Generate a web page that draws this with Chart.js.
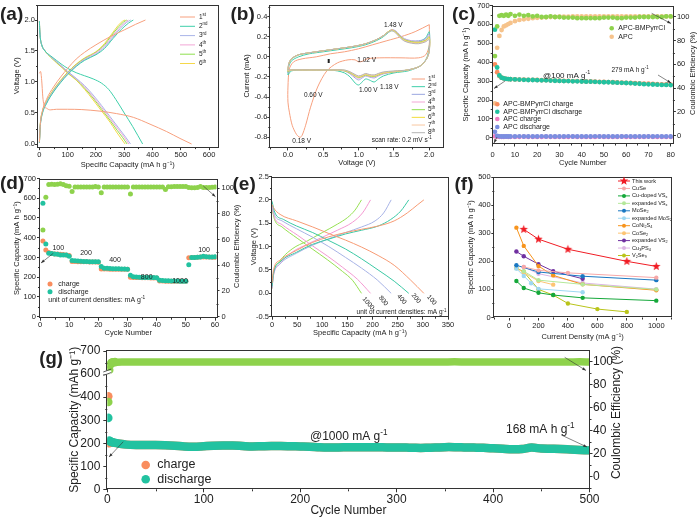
<!DOCTYPE html>
<html>
<head>
<meta charset="utf-8">
<script src="https://cdn.jsdelivr.net/npm/chart.js@4.4.1/dist/chart.umd.min.js"></script>
<style>
  html, body { margin: 0; padding: 0; background: #fff; }
  body { width: 698px; height: 518px; position: relative; overflow: hidden; }
  canvas { position: absolute; }
</style>
</head>
<body>
<canvas id="ca"></canvas>
<canvas id="cb"></canvas>
<canvas id="cc"></canvas>
<canvas id="cd"></canvas>
<canvas id="ce"></canvas>
<canvas id="cf"></canvas>
<canvas id="cg"></canvas>
<script>
// (a) charge / discharge profiles, [capacity, voltage]
const a1ch = [[0,0.03],[3,0.3],[10,0.52],[25,0.72],[50,0.92],[75,1.08],[100,1.22],[130,1.37],[160,1.48],[200,1.6],[250,1.73],[300,1.84],[340,1.93],[375,2.0]]
const a1dis = [[0,1.14],[4,1.17],[8,1.03],[12,0.76],[16,0.63],[26,0.575],[38,0.55],[60,0.56],[100,0.56],[150,0.555],[214,0.53],[273,0.49],[332,0.43],[391,0.32],[450,0.2],[497,0.09],[538,0.0]]
const a2ch = [[0,0.02],[3,0.28],[10,0.48],[25,0.65],[50,0.84],[75,0.99],[100,1.12],[130,1.25],[160,1.35],[200,1.44],[230,1.54],[260,1.7],[290,1.85],[315,1.95],[332,2.0]]
const a3ch = [[0,0.02],[3,0.29],[10,0.49],[25,0.66],[50,0.85],[75,1.0],[100,1.13],[130,1.26],[160,1.36],[200,1.45],[230,1.56],[258,1.71],[285,1.86],[308,1.96],[323,2.0]]
const a4ch = [[0,0.02],[3,0.3],[10,0.5],[25,0.67],[50,0.86],[75,1.01],[100,1.14],[130,1.27],[160,1.37],[200,1.47],[230,1.58],[255,1.72],[280,1.86],[300,1.95],[314,2.0]]
const a5ch = [[0,0.02],[3,0.31],[10,0.51],[25,0.68],[50,0.87],[75,1.02],[100,1.15],[130,1.28],[160,1.38],[200,1.48],[230,1.6],[255,1.75],[280,1.89],[298,1.97],[309,2.0]]
const a6ch = [[0,0.02],[3,0.32],[10,0.52],[25,0.69],[50,0.88],[75,1.03],[100,1.16],[130,1.29],[160,1.39],[200,1.49],[230,1.62],[255,1.77],[278,1.91],[294,1.98],[303,2.0]]
const a2dis = [[0,1.98],[1,1.85],[3,1.72],[8,1.6],[20,1.5],[40,1.42],[60,1.35],[80,1.28],[100,1.22],[130,1.15],[160,1.1],[190,1.05],[220,0.98],[245,0.88],[270,0.72],[300,0.5],[330,0.28],[365,0.0]]
const a3dis = [[0,1.98],[1,1.85],[3,1.72],[8,1.6],[20,1.5],[40,1.41],[60,1.33],[80,1.25],[100,1.17],[130,1.06],[160,0.94],[190,0.79],[220,0.62],[250,0.44],[280,0.26],[305,0.11],[322,0.0]]
const a4dis = [[0,1.98],[1,1.85],[3,1.72],[8,1.6],[20,1.5],[40,1.41],[60,1.33],[80,1.25],[100,1.16],[130,1.05],[160,0.92],[190,0.76],[220,0.59],[250,0.41],[280,0.23],[300,0.11],[316,0.0]]
const a5dis = [[0,1.98],[1,1.85],[3,1.72],[8,1.6],[20,1.5],[40,1.4],[60,1.32],[80,1.24],[100,1.15],[130,1.04],[160,0.9],[190,0.74],[220,0.56],[250,0.38],[275,0.22],[295,0.1],[310,0.0]]
const a6dis = [[0,1.98],[1,1.85],[3,1.72],[8,1.6],[20,1.5],[40,1.4],[60,1.31],[80,1.23],[100,1.14],[130,1.03],[160,0.88],[190,0.71],[220,0.53],[250,0.35],[270,0.21],[290,0.08],[303,0.0]]
const aXTicks = [0, 100, 200, 300, 400, 500, 600]
const aYTicks = [0, 0.5, 1.0, 1.5, 2.0]

// (b) CV loops: voltage path and current for each cycle
const bV1 = [2.0,2.0,1.95,1.85,1.6,1.3,1.12,1.05,1.0,0.95,0.85,0.7,0.55,0.42,0.32,0.25,0.2,0.17,0.12,0.06,0.02,0.0,0.0,0.02,0.08,0.2,0.4,0.6,0.8,1.0,1.2,1.4,1.6,1.8,2.0]
const bI1 = [0.32,0.12,0.02,-0.01,-0.01,-0.01,-0.02,-0.045,-0.05,-0.03,-0.03,-0.06,-0.14,-0.3,-0.5,-0.68,-0.78,-0.8,-0.77,-0.68,-0.55,-0.45,-0.3,-0.12,-0.05,-0.02,0.0,0.03,0.05,0.08,0.12,0.16,0.2,0.25,0.32]
const bV = [0.0,0.01,0.05,0.15,0.3,0.5,0.7,0.9,1.1,1.25,1.35,1.42,1.47,1.52,1.58,1.65,1.75,1.85,1.95,2.0,
  2.0,1.97,1.92,1.85,1.7,1.5,1.35,1.28,1.22,1.15,1.1,1.05,1.0,0.95,0.88,0.8,0.7,0.58,0.4,0.2,0.05,0.0]
const bI2 = [-0.18,-0.1,-0.04,0.0,0.03,0.05,0.07,0.09,0.12,0.16,0.2,0.24,0.26,0.25,0.21,0.17,0.15,0.15,0.19,0.25,
  0.1,0.0,-0.06,-0.1,-0.14,-0.16,-0.19,-0.22,-0.25,-0.23,-0.22,-0.25,-0.28,-0.26,-0.2,-0.16,-0.14,-0.13,-0.13,-0.13,-0.14,-0.18]
const bI3 = [-0.16,-0.08,-0.02,0.02,0.04,0.06,0.08,0.1,0.13,0.17,0.21,0.25,0.27,0.26,0.22,0.18,0.16,0.16,0.18,0.23,
  0.08,-0.01,-0.06,-0.1,-0.13,-0.15,-0.17,-0.19,-0.21,-0.2,-0.19,-0.21,-0.23,-0.21,-0.17,-0.14,-0.13,-0.13,-0.13,-0.13,-0.13,-0.16]
const bI4 = [-0.15,-0.08,-0.02,0.02,0.04,0.06,0.08,0.1,0.13,0.17,0.21,0.25,0.27,0.255,0.215,0.175,0.155,0.15,0.17,0.21,
  0.07,-0.01,-0.06,-0.1,-0.13,-0.15,-0.165,-0.185,-0.2,-0.195,-0.185,-0.2,-0.215,-0.2,-0.165,-0.14,-0.13,-0.13,-0.13,-0.13,-0.13,-0.15]
const bI5 = [-0.15,-0.08,-0.02,0.02,0.04,0.06,0.08,0.1,0.13,0.17,0.21,0.25,0.265,0.25,0.21,0.17,0.15,0.145,0.165,0.2,
  0.06,-0.01,-0.06,-0.1,-0.13,-0.15,-0.16,-0.18,-0.195,-0.19,-0.18,-0.195,-0.205,-0.19,-0.16,-0.14,-0.13,-0.13,-0.13,-0.13,-0.13,-0.15]
const bI6 = [-0.14,-0.07,-0.02,0.02,0.04,0.06,0.08,0.1,0.13,0.17,0.21,0.25,0.265,0.25,0.205,0.165,0.145,0.14,0.16,0.19,
  0.06,-0.01,-0.06,-0.1,-0.13,-0.145,-0.16,-0.175,-0.19,-0.185,-0.175,-0.19,-0.2,-0.185,-0.155,-0.135,-0.13,-0.13,-0.13,-0.13,-0.13,-0.14]
const bI7 = [-0.14,-0.07,-0.02,0.02,0.04,0.06,0.08,0.1,0.13,0.17,0.21,0.245,0.26,0.245,0.2,0.16,0.14,0.135,0.155,0.18,
  0.05,-0.01,-0.06,-0.1,-0.13,-0.145,-0.155,-0.17,-0.185,-0.18,-0.17,-0.185,-0.195,-0.18,-0.15,-0.135,-0.13,-0.13,-0.13,-0.13,-0.13,-0.14]
const bI8 = [-0.13,-0.07,-0.02,0.02,0.04,0.06,0.08,0.1,0.13,0.17,0.21,0.245,0.26,0.24,0.195,0.155,0.135,0.13,0.15,0.17,
  0.05,-0.01,-0.06,-0.1,-0.13,-0.14,-0.15,-0.165,-0.18,-0.175,-0.165,-0.18,-0.19,-0.175,-0.15,-0.13,-0.13,-0.13,-0.13,-0.13,-0.13,-0.13]
const bXTicks = [0, 0.5, 1.0, 1.5, 2.0]
const bYTicks = [-0.8, -0.6, -0.4, -0.2, 0, 0.2, 0.4]

// (c) cycling at 100 mA/g
const cCyc = [1,2,3,4,5,6,7,8,10,12,14,16,18,20,22,24,26,28,30,32,34,36,38,40,42,44,46,48,50,52,54,56,58,60,62,64,66,68,70,72,74,76,78,80]
const cChg = [388,347,327,318,314,312,311,310, 309,308,308,307,307,306,305,305,304,303, 302,301,301,300,300,299,298,298,297,296, 296,295,294,293,292,291,290,289,288,287, 286,285,284,283,282,281]
const cDis = [572,372,330,318,314,312,311,310, 309,308,307,306,306,305,304,304,303,302, 301,300,300,299,299,298,297,297,296,295, 294,294,293,292,291,290,289,287,286,284, 283,282,281,280,280,279]
const cApcChg = [8,6,5,5,5,6,5,5, 5,5,6,5,5,5,5,6,5,5, 5,5,5,6,5,5,5,5,5,6, 5,5,5,5,6,5,5,5,5,5, 6,5,5,5,5,5]
const cApcDis = [32,10,8,7,7,7,7,7, 7,8,7,7,7,7,8,7,7,7, 7,7,8,7,7,7,7,7,8,7, 7,7,7,7,7,8,7,7,7,7, 7,7,8,7,7,7]
const cCeBmp = [67,92,101,101.5,101,102,101,102.5, 101,102,101,101.5,100.5,101,100,100,100.5,100, 100,99.5,99.5,99.5,99,99,99,99,99,99, 99.5,99.5,99.5,99,99,99.5,99.5,99.5,100,100, 100,100,100,100,100.5,100.5]
const cCeApc = [27,74,84,89,92,93,94,95, 96.5,97.5,98,98.5,99,99.3,99.5,99.7,100,100, 100.2,100.3,100.3,100.4,100.5,100.5,100.5,100.6,100.6,100.6, 100.6,100.6,100.6,100.6,100.6,100.6,100.6,100.6,100.6,100.6, 100.5,100.5,100.5,100.5,100.5,100.5]
const cXTicks = [0, 10, 20, 30, 40, 50, 60, 70, 80]
const cYTicks = [0, 100, 200, 300, 400, 500, 600, 700]
const cY2Ticks = [0, 20, 40, 60, 80, 100]

// (d) rate test, cycles 1..60
const dChg = [383,338,325,320,318,318,316,315,313,310, 280,280,279,279,278,278,277,277,277,276, 242,242,242,241,241,241,240,240,240,240, 200,199,198,198,197,197,197,196,196,196, 181,181,180,180,180,180,179,179,179,179, 298,300,300,301,302,303,302,302,301,301]
const dDis = [575,368,322,320,318,316,313,312,312,306, 285,283,282,281,280,280,279,279,279,278, 254,246,245,244,243,243,243,242,242,241, 210,202,201,200,199,199,198,198,198,197, 185,183,182,182,181,181,181,180,180,180, 263,300,300,301,303,306,304,303,303,304]
const dCE = [67.5,93,103,103.2,103,103.2,103.5,103,102,101.5, 97.5,101,101,101,101,101,101,101,101.3,101, 96.5,101,101,101,101,101,101,101,101,101, 95.5,101,101,101,101,101,101,101,101,101, 101,101,99,101.2,101.2,101.3,101.3,101.3,101.3,101.3, 100.5,100.3,100.3,100.6,101.3,100.6,100.5,100.6,100.8,101]
const dRates = ['100', '200', '400', '800', '1000', '100']
const dXTicks = [0, 10, 20, 30, 40, 50, 60]

// (e) profiles at different current densities
const e100ch = [[0,0.22],[3,0.5],[16,0.71],[49,0.92],[81,1.09],[113,1.21],[146,1.3],[178,1.37],[211,1.44],[243,1.55],[269,1.72],[290,1.9],[302,2.0]]
const e100dis = [[0,1.9],[3,1.83],[16,1.69],[49,1.55],[81,1.42],[113,1.28],[146,1.14],[178,0.99],[211,0.81],[243,0.6],[275,0.29],[302,0.0]]
const e200ch = [[0,0.15],[3,0.43],[16,0.67],[49,0.88],[81,1.05],[113,1.16],[146,1.27],[178,1.35],[211,1.44],[236,1.58],[256,1.76],[272,2.0]]
const e200dis = [[0,1.97],[6,1.72],[23,1.58],[49,1.44],[81,1.3],[113,1.13],[146,0.95],[178,0.74],[211,0.5],[243,0.26],[272,0.0]]
const e400ch = [[0,0.12],[3,0.4],[15,0.62],[49,0.86],[81,1.03],[113,1.17],[146,1.3],[178,1.42],[205,1.55],[222,1.72],[237,2.0]]
const e400dis = [[0,1.9],[5,1.68],[20,1.55],[49,1.38],[81,1.2],[113,1.0],[146,0.77],[178,0.54],[210,0.28],[237,0.0]]
const e800ch = [[0,0.1],[3,0.38],[15,0.62],[40,0.88],[70,1.05],[100,1.2],[130,1.35],[160,1.52],[180,1.72],[196,2.0]]
const e800dis = [[0,1.85],[5,1.62],[20,1.47],[50,1.25],[80,1.02],[110,0.8],[140,0.56],[170,0.3],[196,0.0]]
const e1000ch = [[0,0.1],[3,0.42],[15,0.68],[40,0.95],[70,1.12],[100,1.3],[130,1.48],[150,1.62],[165,1.78],[178,2.0]]
const e1000dis = [[0,1.82],[5,1.58],[20,1.42],[50,1.18],[80,0.95],[110,0.72],[140,0.47],[160,0.28],[178,0.0]]
const eXTicks = [0, 50, 100, 150, 200, 250, 300, 350]
const eYTicks = [-0.5, 0, 0.5, 1.0, 1.5, 2.0, 2.5]

// (f) comparison, [current density, capacity]
const fNames = ['This work', 'CuSe', 'Cu-doped VS_{x}', 'expanded VS_{x}', 'MoSe_{2}', 'expanded MoS_{2}', 'CoNi_{2}S_{4}', 'CoSe_{2}', 'expanded VS_{2}', 'Cu_{3}PS_{4}', 'V_{2}Se_{9}']
const fThis = [[100,314],[200,279],[400,243],[800,200],[1000,182]]
const fCuSe = [[100,180],[200,168],[400,159],[1000,142]]
const fCuVSx = [[50,130],[100,105],[200,88],[300,80],[500,70],[1000,60]]
const fExVSx = [[100,165],[200,133],[500,118],[1000,100]]
const fMoSe2 = [[50,186],[200,162],[500,147],[1000,133]]
const fExMoS2 = [[50,174],[100,148],[150,122],[200,102],[500,90]]
const fCoNi2S4 = [[50,320],[100,255],[200,183],[300,150],[500,118],[1000,97]]
const fCoSe2 = [[50,176],[100,160],[200,130],[300,117]]
const fExVS2 = [[50,235],[100,218],[200,190],[300,165],[500,138]]
const fCu3PS4 = [[100,180],[200,156],[500,123],[1000,101]]
const fV2Se9 = [[50,176],[100,163],[200,100],[300,80],[400,50],[600,30],[800,20]]
const fXTicks = [0, 200, 400, 600, 800, 1000]
const fYTicks = [0, 100, 200, 300, 400, 500]

// (g) long cycling at 1000 mA/g
const gEarlyCyc = [1, 2, 3, 4, 5, 6, 8]
const gEarlyDis = [310, 212, 208, 206, 204, 203, 202]
const gEarlyChg = [407, 200, 206, 205, 203, 202, 201]
const gEarlyCE = [64.7, 92.5, 97, 98.5, 99, 99.2, 99.3]
const gCyc = [10,20,30,40,50,60,70,80,90,100,110,120,130,140,150,160,170,180,190,200,210,220,230,240,250,260,270,280,290,300,310,320,330,340,350,360,370,380,390,400,410,420,430,440,450,460,470,480,490,500]
const gDis = [200,194,192,192,192,191,189,186,185,187, 189,190,190,188,186,187,188,188,187,186, 185,183,182,182,183,183,183,183,182,182, 181,180,180,181,183,183,182,181,180,178, 176,174,175,181,177,176,175,173,171,169]
const gCE = [99.3,99.4,99.4,99.5,99.4,99.4,99.5,99.4,99.4,99.5, 99.4,99.5,99.4,99.4,99.4,99.5,99.5,99.4,99.4,99.4, 99.5,99.4,99.4,99.4,99.5,99.5,99.4,99.4,99.4,99.4, 99.5,99.4,99.4,99.4,99.5,99.6,99.5,99.4,99.4,99.4, 99.5,99.4,99.4,99.5,99.4,99.4,99.4,99.5,99.6,99.5]
const gXTicks = [0, 100, 200, 300, 400, 500]
const gYTicks = [0, 100, 200, 300, 400, 600, 700]
const gY2Ticks = [0, 20, 40, 60, 80, 100]

const FONT = "'Liberation Sans', Arial, sans-serif"
Chart.defaults.font.family = FONT
Chart.defaults.font.size = 7.5
Chart.defaults.color = '#222'

const ORANGE = '#f98d5e', TEAL = '#22c2a0', GREEN = '#8ed24c', PEACH = '#f6c38c', PINK = '#f07dc2', BLUE = '#7b8fe0'

// left axis of (g) is broken between 400 and 600
const brk = v => v <= 400 ? v : v >= 600 ? v - 100 : 400 + (v - 400) / 2
const unbrk = d => d <= 400 ? d : d + 100

const pairs = arr => arr.map(p => ({x: p[0], y: p[1]}))
const xy = (xs, ys, f) => xs.map((x, i) => ({x: x, y: f ? f(ys[i]) : ys[i]}))

function starPath(ctx, cx, cy, r) {
  ctx.beginPath()
  for (let i = 0; i < 10; i++) {
    const rr = i % 2 ? r * 0.42 : r
    const a = -Math.PI / 2 + i * Math.PI / 5
    ctx.lineTo(cx + rr * Math.cos(a), cy + rr * Math.sin(a))
  }
  ctx.closePath()
}
function starImage(r, color) {
  const c = document.createElement('canvas')
  const s = Math.ceil(r * 2 + 2)
  c.width = c.height = s
  const x = c.getContext('2d')
  starPath(x, s / 2, s / 2, r)
  x.fillStyle = color
  x.fill()
  return c
}

// text with ^{sup} and _{sub}
function rich(ctx, s, x, y, size, align, bold) {
  const parts = []
  const re = /([\^_])\{([^}]*)\}/g
  let last = 0, m
  while ((m = re.exec(s))) {
    if (m.index > last) parts.push({t: s.slice(last, m.index), k: ''})
    parts.push({t: m[2], k: m[1]})
    last = re.lastIndex
  }
  if (last < s.length) parts.push({t: s.slice(last), k: ''})
  const font = k => (bold ? 'bold ' : '') + (k ? size * 0.68 : size) + 'px ' + FONT
  let w = 0
  parts.forEach(p => { ctx.font = font(p.k); p.w = ctx.measureText(p.t).width; w += p.w })
  let cx = align === 'center' ? x - w / 2 : align === 'right' ? x - w : x
  ctx.textAlign = 'left'
  ctx.textBaseline = 'middle'
  parts.forEach(p => {
    ctx.font = font(p.k)
    const dy = p.k === '^' ? -size * 0.33 : p.k === '_' ? size * 0.25 : 0
    ctx.fillText(p.t, cx, y + dy)
    cx += p.w
  })
}

const T = (x, y, s, size, align, rot, bold) => ({k: 't', x, y, s, size, align: align || 'left', rot: rot || 0, bold})
const A = (x1, y1, x2, y2) => ({k: 'a', x1, y1, x2, y2})
const K = (k, x, y, color, len) => ({k, x, y, color, len})

function drawItem(ctx, it) {
  ctx.fillStyle = '#222'
  ctx.strokeStyle = '#333'
  if (it.k === 't') {
    ctx.save()
    ctx.translate(it.x, it.y)
    ctx.rotate(it.rot)
    rich(ctx, it.s, 0, 0, it.size, it.align, it.bold)
    ctx.restore()
  } else if (it.k === 'a') {
    const ang = Math.atan2(it.y2 - it.y1, it.x2 - it.x1)
    ctx.lineWidth = 0.6
    ctx.beginPath(); ctx.moveTo(it.x1, it.y1); ctx.lineTo(it.x2, it.y2); ctx.stroke()
    ctx.beginPath()
    ctx.moveTo(it.x2, it.y2)
    ctx.lineTo(it.x2 - 4 * Math.cos(ang - 0.35), it.y2 - 4 * Math.sin(ang - 0.35))
    ctx.lineTo(it.x2 - 4 * Math.cos(ang + 0.35), it.y2 - 4 * Math.sin(ang + 0.35))
    ctx.closePath()
    ctx.fillStyle = '#333'
    ctx.fill()
  } else if (it.k === 'line' || it.k === 'lineDot' || it.k === 'lineStar') {
    ctx.strokeStyle = it.color
    ctx.lineWidth = 1
    ctx.beginPath(); ctx.moveTo(it.x, it.y); ctx.lineTo(it.x + it.len, it.y); ctx.stroke()
    ctx.fillStyle = it.color
    if (it.k === 'lineDot') { ctx.beginPath(); ctx.arc(it.x + it.len / 2, it.y, 2, 0, 7); ctx.fill() }
    if (it.k === 'lineStar') { starPath(ctx, it.x + it.len / 2, it.y, 4.5); ctx.fill() }
  } else if (it.k === 'dot') {
    ctx.fillStyle = it.color
    ctx.beginPath(); ctx.arc(it.x, it.y, it.len, 0, 7); ctx.fill()
  } else if (it.k === 'sq') {
    ctx.fillStyle = '#222'
    ctx.fillRect(it.x - 1, it.y - 2, 2, 4)
  } else if (it.k === 'brk') {
    ctx.fillStyle = '#fff'
    ctx.fillRect(it.x - 4, it.y - 2, 8, 4)
    ctx.lineWidth = 0.8
    ctx.beginPath()
    ctx.moveTo(it.x - 4, it.y - 0.5); ctx.lineTo(it.x + 4, it.y - 3.5)
    ctx.moveTo(it.x - 4, it.y + 3); ctx.lineTo(it.x + 4, it.y)
    ctx.stroke()
  }
}

function deco(items, ox, oy) {
  return {
    id: 'deco',
    afterDraw(chart) {
      const ctx = chart.ctx
      ctx.save()
      ctx.translate(-ox, -oy)
      items.forEach(it => drawItem(ctx, it))
      ctx.restore()
    }
  }
}

// frame round the plot area and small minor ticks
Chart.register({
  id: 'frame',
  afterDraw(chart) {
    const {ctx, chartArea: a} = chart
    ctx.save()
    ctx.strokeStyle = '#333'
    ctx.lineWidth = 1
    ctx.strokeRect(Math.round(a.left) - 0.5, Math.round(a.top) + 0.5, Math.round(a.right - a.left) + 1, Math.round(a.bottom - a.top) - 1)
    Object.values(chart.scales).forEach(s => {
      const st = s.options.minor
      if (!st) return
      const majors = s.ticks.map(t => t.value)
      ctx.beginPath()
      for (let v = Math.ceil(s.min / st - 1e-9) * st; v <= s.max + 1e-9; v += st) {
        if (majors.some(mv => Math.abs(mv - v) < st / 10)) continue
        const p = Math.round(s.getPixelForValue(v)) + 0.5
        if (s.position === 'bottom') { ctx.moveTo(p, a.bottom); ctx.lineTo(p, a.bottom + 2) }
        else if (s.position === 'left') { ctx.moveTo(a.left, p); ctx.lineTo(a.left - 2, p) }
        else { ctx.moveTo(a.right, p); ctx.lineTo(a.right + 2, p) }
      }
      ctx.stroke()
    })
    ctx.restore()
  }
})

function axis(o) {
  return {
    type: 'linear', position: o.pos, min: o.min, max: o.max, minor: o.minor,
    afterBuildTicks: s => { s.ticks = o.ticks.map(v => ({value: v})) },
    afterFit: s => { if (s.isHorizontal()) s.height = o.size; else s.width = o.size },
    grid: {drawOnChartArea: false, tickLength: o.tl || 3, color: '#333', tickColor: '#333'},
    border: {display: false},
    ticks: {font: {size: o.fs || 7.5}, padding: o.pad || 0, color: '#222', maxRotation: 0, autoSkip: false, callback: o.fmt || (v => String(v))},
    title: {display: !!o.title, text: o.title, color: '#222', font: {size: o.fs || 7.5}, padding: {top: o.tpad || 0, bottom: o.tpad || 0}}
  }
}

function panel(id, box, plot, datasets, scales, items) {
  const cv = document.getElementById(id)
  cv.width = box[2] - box[0]
  cv.height = box[3] - box[1]
  cv.style.left = box[0] + 'px'
  cv.style.top = box[1] + 'px'
  return new Chart(cv, {
    type: 'scatter',
    data: {datasets: datasets},
    options: {
      responsive: false, animation: false, devicePixelRatio: 1,
      layout: {autoPadding: false, padding: {left: 0, bottom: 0, top: plot[1] - box[1], right: scales.y2 ? 0 : box[2] - plot[2]}},
      plugins: {legend: {display: false}, tooltip: {enabled: false}},
      scales: scales
    },
    plugins: [deco(items, box[0], box[1])]
  })
}

// smooth monotone curve for profiles, plain bezier for loops
const curve = (data, color) => ({data, showLine: true, borderColor: color, backgroundColor: color, borderWidth: 1, pointRadius: 0, cubicInterpolationMode: 'monotone', yAxisID: 'y'})
const line = (data, color, w, t) => ({data, showLine: true, borderColor: color, backgroundColor: color, borderWidth: w || 1, pointRadius: 0, tension: t === undefined ? 0.4 : t, yAxisID: 'y'})
const dots = (data, color, r, ax) => ({data, showLine: false, backgroundColor: color, borderColor: color, borderWidth: 0, pointRadius: r, yAxisID: ax || 'y'})
const f1 = v => v.toFixed(1)

// ---------- (a)
const aColors = ['#f7a07e', '#3fcfaa', '#a9b4e8', '#f2a6d6', '#8fdf4f', '#f5d84a']
const aSup = ['1^{st}', '2^{nd}', '3^{rd}', '4^{th}', '5^{th}', '6^{th}']
const aItems = [T(0, 14.5, '(a)', 19, 'left', 0, true)]
aSup.forEach((s, i) => {
  const y = 17 + i * 9.3
  aItems.push(K('line', 180, y, aColors[i], 15), T(199, y, s, 6.5))
})
panel('ca', [0, 0, 232, 172], [38, 4.5, 217.6, 147.1], [
  curve(pairs(a6ch), aColors[5]), curve(pairs(a6dis), aColors[5]),
  curve(pairs(a5ch), aColors[4]), curve(pairs(a5dis), aColors[4]),
  curve(pairs(a4ch), aColors[3]), curve(pairs(a4dis), aColors[3]),
  curve(pairs(a3ch), aColors[2]), curve(pairs(a3dis), aColors[2]),
  curve(pairs(a2ch), aColors[1]), curve(pairs(a2dis), aColors[1]),
  curve(pairs(a1ch), aColors[0]), curve(pairs(a1dis), aColors[0])
].reverse(), {
  x: axis({pos: 'bottom', min: -5, max: 630, ticks: aXTicks, minor: 50, size: 24.9, pad: 0.4, title: 'Specific Capacity (mA h g⁻¹)', tpad: 2.5}),
  y: axis({pos: 'left', min: -0.05, max: 2.25, ticks: aYTicks, minor: 0.25, size: 38, fmt: f1, title: 'Voltage (V)', tpad: 12.8})
}, aItems)

// ---------- (b)
const bColors = ['#f7a07e', '#3fcfaa', '#9aa6e0', '#f2a6d6', '#8fdf4f', '#f2dc3a', '#f8c8a0', '#b4b4b4']
const bCurr = [bI2, bI3, bI4, bI5, bI6, bI7, bI8]
const bSets = [line(xy(bV1, bI1), bColors[0], 1, 0.3)]
bCurr.forEach((c, i) => bSets.push(line(xy(bV, c), bColors[i + 1], 1, 0.3)))
const bItems = [
  T(230.5, 14.5, '(b)', 19, 'left', 0, true),
  T(393.3, 25, '1.48 V', 6.5, 'center'),
  T(366.7, 60, '1.02 V', 6.5, 'center'),
  T(313.3, 95, '0.60 V', 6.5, 'center'),
  T(368.3, 90, '1.00 V', 6.5, 'center'),
  T(389.3, 87.3, '1.18 V', 6.5, 'center'),
  T(301.7, 141.7, '0.18 V', 6.5, 'center'),
  T(401.7, 140, 'scan rate: 0.2 mV s^{-1}', 6.5, 'center'),
  K('sq', 328.7, 61)
]
const bSup = ['1^{st}', '2^{nd}', '3^{rd}', '4^{th}', '5^{th}', '6^{th}', '7^{th}', '8^{th}']
bSup.forEach((s, i) => {
  const y = 79 + i * 7.67
  bItems.push(K('line', 411.7, y, bColors[i], 13.3), T(428, y, s, 6.5))
})
panel('cb', [228, 0, 460, 172], [270.3, 3.9, 443.4, 147.4], bSets.reverse(), {
  x: axis({pos: 'bottom', min: -0.25, max: 2.2, ticks: bXTicks, minor: 0.25, size: 24.6, fmt: f1, title: 'Voltage (V)', tpad: 4.2}),
  y: axis({pos: 'left', min: -0.9, max: 0.52, ticks: bYTicks, minor: 0.1, size: 42.3, fmt: f1, title: 'Current (mA)', tpad: 14.8})
}, bItems)

// ---------- (c)
panel('cc', [448, 0, 698, 172], [492.7, 3.3, 672.9, 143.5], [
  dots(xy(cCyc, cCeBmp), GREEN, 2.4, 'y2'),
  dots(xy(cCyc, cCeApc), PEACH, 2.4, 'y2'),
  dots(xy(cCyc, cDis), TEAL, 2.4),
  dots(xy(cCyc, cChg), ORANGE, 2.4),
  dots(xy(cCyc, cApcDis), BLUE, 2.4),
  dots(xy(cCyc, cApcChg), PINK, 2.4)
], {
  x: axis({pos: 'bottom', min: 0, max: 81, ticks: cXTicks, minor: 5, size: 28.5, pad: 4, title: 'Cycle Number', tpad: 4.2}),
  y: axis({pos: 'left', min: -30, max: 700, ticks: cYTicks, minor: 50, size: 44.7, title: 'Specific Capacity (mA h g⁻¹)', tpad: 13.5}),
  y2: axis({pos: 'right', min: -6.8, max: 109.7, ticks: cY2Ticks, minor: 10, size: 25.1, pad: 1})
}, [
  T(452, 14.5, '(c)', 19, 'left', 0, true),
  K('dot', 611.7, 28.3, GREEN, 2.3), T(618.3, 28.3, 'APC-BMPyrrCl', 7),
  K('dot', 611.7, 36.7, PEACH, 2.3), T(618.3, 36.7, 'APC', 7),
  K('dot', 497.3, 104.3, ORANGE, 2.3), T(503.3, 104.3, 'APC-BMPyrrCl charge', 7),
  K('dot', 497.3, 111.7, TEAL, 2.3), T(503.3, 111.7, 'APC-BMPyrrCl discharge', 7),
  K('dot', 497.3, 119, PINK, 2.3), T(503.3, 119, 'APC charge', 7),
  K('dot', 497.3, 127, BLUE, 2.3), T(503.3, 127, 'APC discharge', 7),
  T(566.7, 75.5, '@100 mA g^{-1}', 8, 'center'),
  T(630, 70, '279 mA h g^{-1}', 6.5, 'center'),
  A(658, 75, 671, 83), A(651.7, 13.3, 671, 23.5), A(505, 81, 494, 88.5), A(497, 137, 494, 143),
  T(693.3, 73.4, 'Coulombic Efficiency (%)', 7.5, 'center', -Math.PI / 2)
])

// ---------- (d)
const dCyc = dChg.map((v, i) => i + 1)
panel('cd', [0, 172, 244, 340], [40, 175, 216.5, 317.7], [
  dots(xy(dCyc, dCE), GREEN, 2.5, 'y2'),
  dots(xy(dCyc, dDis), TEAL, 2.5),
  dots(xy(dCyc, dChg), ORANGE, 2.5)
], {
  x: axis({pos: 'bottom', min: 0, max: 60.5, ticks: dXTicks, minor: 5, size: 22.3, title: 'Cycle Number', tpad: 2.2}),
  y: axis({pos: 'left', min: -5, max: 700, ticks: cYTicks, minor: 50, size: 40, pad: 1, title: 'Specific Capacity (mA h g⁻¹)', tpad: 12.8}),
  y2: axis({pos: 'right', min: -0.8, max: 107.6, ticks: cY2Ticks, minor: 10, size: 27.5, pad: 2})
}, [
  T(0, 183.5, '(d)', 19, 'left', 0, true),
  T(58.3, 248.3, dRates[0], 7, 'center'), T(86, 253.3, dRates[1], 7, 'center'),
  T(115, 260, dRates[2], 7, 'center'), T(146.7, 277.3, dRates[3], 7, 'center'),
  T(180, 280.7, dRates[4], 7, 'center'), T(204, 250, dRates[5], 7, 'center'),
  K('dot', 50, 284, ORANGE, 2.5), T(58.3, 284, 'charge', 7),
  K('dot', 50, 291.7, TEAL, 2.5), T(58.3, 291.7, 'discharge', 7),
  T(48.3, 300, 'unit of current densities: mA g^{-1}', 7),
  A(53.3, 253.3, 41, 263), A(203.3, 186, 215.5, 196.7),
  T(236.7, 246.3, 'Coulombic Efficiency (%)', 7.5, 'center', -Math.PI / 2)
])

// ---------- (e)
const eColors = ['#f79b74', '#3cc9a5', '#a7b3e6', '#f49ad2', '#96e052']
const eCurves = [[e100ch, e100dis], [e200ch, e200dis], [e400ch, e400dis], [e800ch, e800dis], [e1000ch, e1000dis]]
const eSets = []
eCurves.forEach((c, i) => eSets.push(curve(pairs(c[0]), eColors[i]), curve(pairs(c[1]), eColors[i])))
const eRot = 50 * Math.PI / 180
panel('ce', [230, 172, 460, 340], [272, 174, 448, 316.7], eSets, {
  x: axis({pos: 'bottom', min: 0, max: 350, ticks: eXTicks, minor: 25, size: 23.3, pad: 1, title: 'Specific Capacity (mA h g⁻¹)', tpad: 2.2}),
  y: axis({pos: 'left', min: -0.5, max: 2.5, ticks: eYTicks, minor: 0.25, size: 42, fmt: f1, title: 'Voltage (V)', tpad: 19.5})
}, [
  T(232.5, 184.5, '(e)', 19, 'left', 0, true),
  T(368.3, 303.3, dRates[4], 6.5, 'center', eRot),
  T(383.3, 300.7, dRates[3], 6.5, 'center', eRot),
  T(401.7, 299.3, dRates[2], 6.5, 'center', eRot),
  T(416, 298.3, dRates[1], 6.5, 'center', eRot),
  T(431.7, 300, dRates[0], 6.5, 'center', eRot),
  T(446.5, 312.7, 'unit of current densities: mA g^{-1}', 6.5, 'right')
])

// ---------- (f)
const fColors = ['#f01c24', '#f6a8a8', '#15a83a', '#b4e89a', '#1a78c2', '#9ed8f2', '#f7941d', '#fdc573', '#7030a0', '#dcb4e4', '#b9c41a']
const fSeries = [fThis, fCuSe, fCuVSx, fExVSx, fMoSe2, fExMoS2, fCoNi2S4, fCoSe2, fExVS2, fCu3PS4, fV2Se9]
const fSets = fSeries.map((s, i) => ({
  data: pairs(s), showLine: true, borderColor: fColors[i], backgroundColor: fColors[i], borderWidth: 1,
  pointRadius: 2.2, pointBorderWidth: 0, tension: 0, yAxisID: 'y',
  pointStyle: i === 0 ? starImage(4.5, fColors[0]) : 'circle'
}))
const fItems = [T(454.5, 184.5, '(f)', 19, 'left', 0, true)]
fNames.forEach((n, i) => {
  const y = 181 + i * 7.45
  fItems.push(K(i === 0 ? 'lineStar' : 'lineDot', 618, y, fColors[i], 12), T(632, y, n, 5.6))
})
panel('cf', [450, 172, 698, 345], [494.3, 176.7, 671, 317.5], fSets, {
  x: axis({pos: 'bottom', min: -100, max: 1100, ticks: fXTicks, minor: 100, size: 27.5, pad: 1, title: 'Current Density (mA g⁻¹)', tpad: 3.8}),
  y: axis({pos: 'left', min: 0, max: 500, ticks: fYTicks, minor: 50, size: 44.3, pad: 0.6, title: 'Specific Capacity (mA h g⁻¹)', tpad: 16.2})
}, fItems)

// ---------- (g)
const band = (data, color, w, ax) => ({data, showLine: true, borderColor: color, backgroundColor: color, borderWidth: w, pointRadius: 0, tension: 0.3, borderCapStyle: 'round', borderJoinStyle: 'round', yAxisID: ax || 'y'})
panel('cg', [20, 340, 698, 518], [107.3, 346, 589.5, 489.3], [
  dots(xy(gEarlyCyc, gEarlyCE), GREEN, 4.3, 'y2'),
  band(xy(gCyc, gCE), GREEN, 7.5, 'y2'),
  dots(xy(gEarlyCyc, gEarlyDis, brk), TEAL, 4.3),
  band(xy(gCyc, gDis, brk), TEAL, 8.5),
  dots(xy(gEarlyCyc, gEarlyChg, brk), ORANGE, 4.3),
  band(xy(gCyc, gDis, brk), ORANGE, 8.5)
], {
  x: axis({pos: 'bottom', min: 0, max: 500, ticks: gXTicks, minor: 50, size: 28.7, fs: 12, pad: 0.5, title: 'Cycle Number', tpad: 0}),
  y: axis({pos: 'left', min: 0, max: 604, ticks: gYTicks.map(brk), minor: 50, size: 87.3, fs: 12, tl: 4, pad: 3, fmt: v => String(unbrk(v)), title: 'Specific Capacity (mAh g⁻¹)', tpad: 47.8}),
  y2: axis({pos: 'right', min: -11.2, max: 109.7, ticks: gY2Ticks, minor: 10, size: 108.5, fs: 12, pad: 0.5})
}, [
  T(39.3, 358.5, '(g)', 18.5, 'left', 0, true),
  K('dot', 145.7, 465, ORANGE, 4.3), T(157.3, 465, 'charge', 12.5),
  K('dot', 145.7, 479.3, TEAL, 4.3), T(157.3, 479.3, 'discharge', 12.5),
  T(310, 437, '@1000 mA g^{-1}', 12),
  T(506, 429.3, '168 mA h g^{-1}', 12),
  A(564.7, 357.3, 586, 370.5), A(561.3, 435, 587, 447), A(123.3, 441.7, 109, 457),
  K('brk', 107.3, 372.5),
  T(616.3, 412.5, 'Coulombic Efficiency (%)', 12, 'center', -Math.PI / 2)
])
</script>
</body>
</html>
